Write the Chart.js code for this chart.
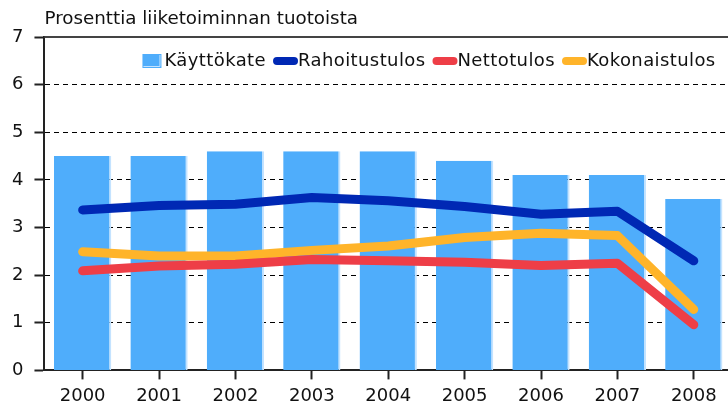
<!DOCTYPE html>
<html>
<head>
<meta charset="utf-8">
<script src="https://cdn.jsdelivr.net/npm/chart.js@4"></script>
<style>
  html, body { margin: 0; padding: 0; background: #fff; overflow: hidden; }
  canvas { display: block; }
</style>
</head>
<body>
<canvas id="chart" width="732" height="413"></canvas>
<script>
const years = ["2000", "2001", "2002", "2003", "2004", "2005", "2006", "2007", "2008"];
const kayttokate = [4.5, 4.5, 4.6, 4.6, 4.6, 4.4, 4.1, 4.1, 3.6];
const rahoitustulos = [3.37, 3.46, 3.49, 3.63, 3.56, 3.44, 3.28, 3.34, 2.3];
const nettotulos = [2.09, 2.19, 2.23, 2.33, 2.3, 2.27, 2.2, 2.25, 0.96];
const kokonaistulos = [2.49, 2.4, 2.4, 2.52, 2.61, 2.79, 2.88, 2.83, 1.28];
const yTicks = [0, 1, 2, 3, 4, 5, 6, 7];

const titleText = "Prosenttia liiketoiminnan tuotoista";
const FONT = "DejaVu Sans";

// title, top border line and the legend inside the plot
const extras = {
    id: "extras",
    beforeDatasetsDraw(chart) {
        const { ctx, chartArea } = chart;
        ctx.save();
        ctx.strokeStyle = "#444";
        ctx.lineWidth = 2;
        ctx.beginPath();
        ctx.moveTo(chartArea.left, chartArea.top);
        ctx.lineTo(chartArea.right, chartArea.top);
        ctx.stroke();
        ctx.restore();
    },
    afterDraw(chart) {
        const { ctx, chartArea } = chart;
        ctx.save();
        ctx.font = `18.3px "${FONT}"`;
        ctx.fillStyle = "#111";
        ctx.textBaseline = "middle";
        ctx.textAlign = "left";
        ctx.fillText(titleText, chartArea.left, 19);

        // legend
        ctx.font = `18px "${FONT}"`;
        ctx.letterSpacing = "0.4px";
        const y = 61;
        let x = chartArea.left + 98;
        chart.data.datasets.forEach(ds => {
            if (ds.type === "bar") {
                ctx.fillStyle = ds.backgroundColor;
                ctx.fillRect(x, y - 7, 19, 14);
                ctx.strokeStyle = "#c4e3ff";
                ctx.lineWidth = 1;
                ctx.beginPath();
                ctx.moveTo(x + 1, y + 5.5);
                ctx.lineTo(x + 17.5, y + 5.5);
                ctx.lineTo(x + 17.5, y - 6);
                ctx.stroke();
            } else {
                ctx.strokeStyle = ds.borderColor;
                ctx.lineWidth = 8;
                ctx.lineCap = "round";
                ctx.beginPath();
                ctx.moveTo(x + 4, y);
                ctx.lineTo(x + 21, y);
                ctx.stroke();
            }
            ctx.fillStyle = "#111";
            const tx = x + (ds.type === "bar" ? 22 : 25);
            ctx.fillText(ds.label, tx, y);
            x = tx + ctx.measureText(ds.label).width + 7;
        });
        ctx.restore();
    }
};

const lineStyle = {
    type: "line",
    borderWidth: 9,
    borderCapStyle: "round",
    borderJoinStyle: "round",
    pointRadius: 0,
    tension: 0,
    fill: false,
    order: 0
};

new Chart(document.getElementById("chart"), {
    data: {
        labels: years,
        datasets: [
            {
                type: "bar",
                label: "Käyttökate",
                data: kayttokate,
                backgroundColor: "#4fadfb",
                borderColor: "#c4e3ff",
                borderWidth: { right: 2, top: 0, left: 0, bottom: 0 },
                borderSkipped: false,
                barPercentage: 0.75,
                categoryPercentage: 1,
                order: 1
            },
            { ...lineStyle, label: "Rahoitustulos", data: rahoitustulos, borderColor: "#0028b4" },
            { ...lineStyle, label: "Nettotulos", data: nettotulos, borderColor: "#ee3e47" },
            { ...lineStyle, label: "Kokonaistulos", data: kokonaistulos, borderColor: "#ffb42a" }
        ]
    },
    options: {
        responsive: false,
        animation: false,
        layout: { padding: { top: 37, left: 1, right: 0, bottom: 0 } },
        plugins: {
            legend: { display: false },
            tooltip: { enabled: false }
        },
        scales: {
            x: {
                offset: true,
                grid: {
                    offset: false,
                    drawOnChartArea: false,
                    drawTicks: true,
                    tickLength: 9,
                    tickColor: "#222",
                    tickWidth: 2
                },
                border: { color: "#222", width: 2 },
                ticks: {
                    color: "#111",
                    font: { family: FONT, size: 18 },
                    padding: 6,
                    maxRotation: 0
                }
            },
            y: {
                min: 0,
                max: 7,
                afterBuildTicks: axis => { axis.ticks = yTicks.map(v => ({ value: v })); },
                grid: {
                    z: -1,
                    color: c => (c.tick && (c.tick.value === 0 || c.tick.value === 7)) ? "transparent" : "#000",
                    lineWidth: 1,
                    drawTicks: true,
                    tickLength: 10,
                    tickColor: "#222",
                    tickWidth: 2
                },
                border: { color: "#222", width: 2, dash: [5, 4] },
                ticks: {
                    color: "#111",
                    font: { family: FONT, size: 18 },
                    padding: 11
                }
            }
        }
    },
    plugins: [extras]
});
</script>
</body>
</html>
